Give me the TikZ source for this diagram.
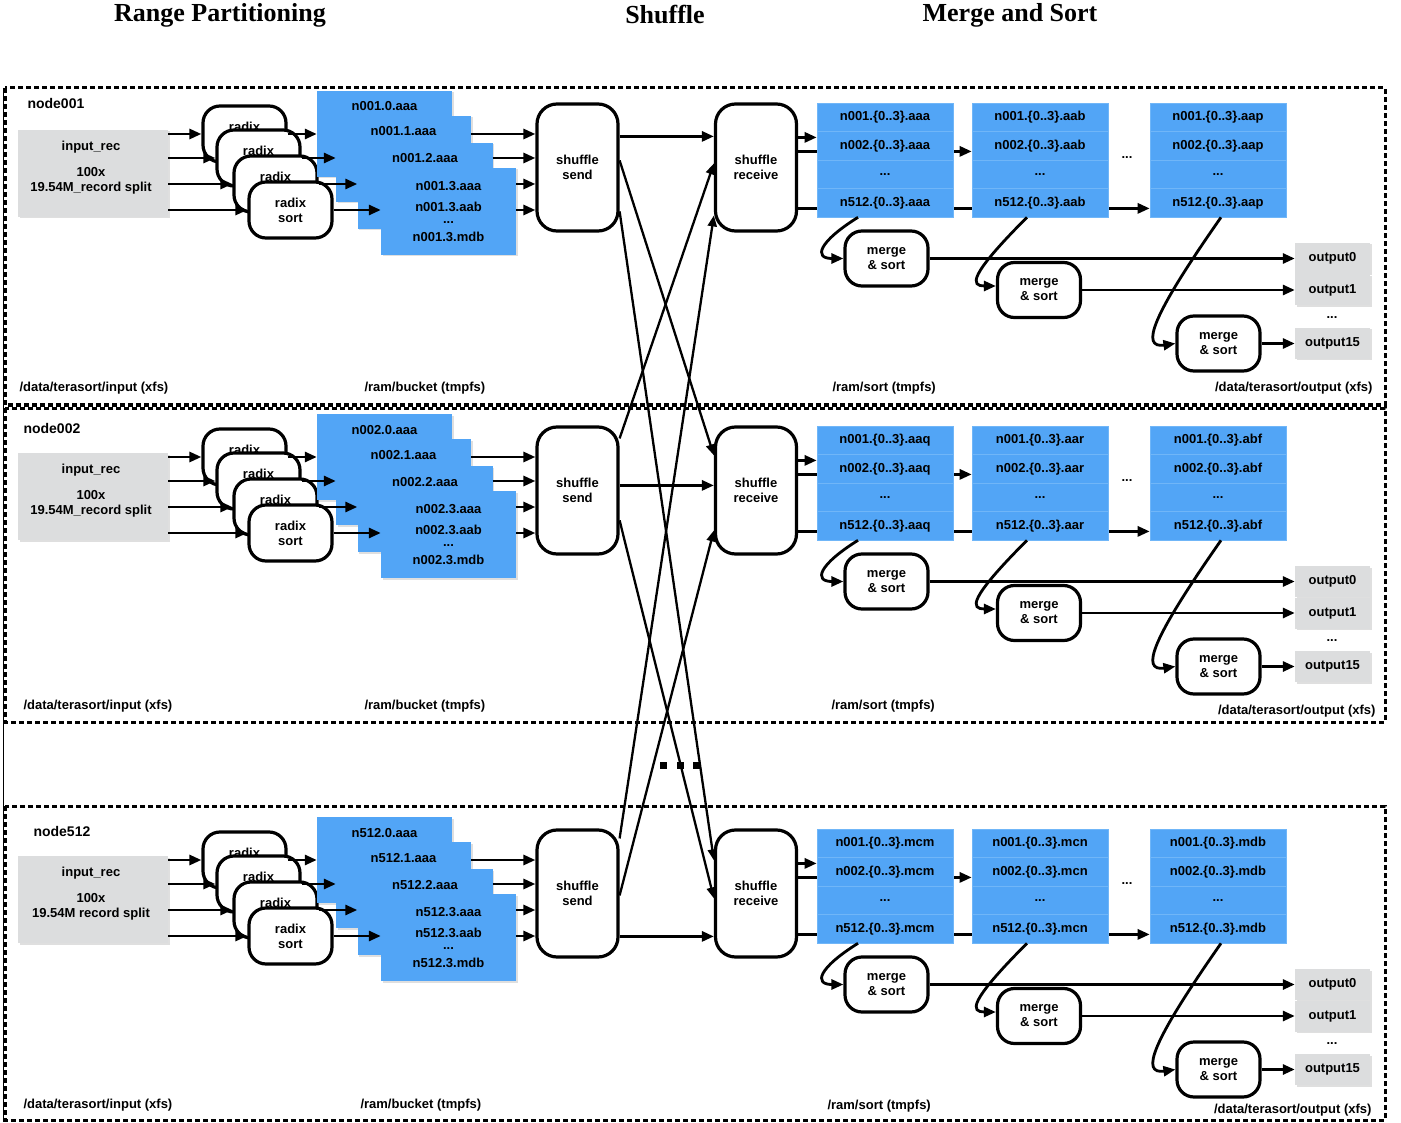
\documentclass[tikz,border=0pt]{standalone}
\usepackage{fontspec}
\setsansfont{Liberation Sans}
\newfontfamily\titlefont{Liberation Serif}
\usetikzlibrary{arrows.meta,shadows,backgrounds}

\definecolor{bucketblue}{RGB}{82,165,246}
\definecolor{rowline}{RGB}{112,182,248}
\definecolor{boxgray}{RGB}{220,221,222}

\tikzset{
	txt/.style={font=\sffamily\bfseries\fontsize{13}{15}\selectfont},
	ttl/.style={font=\titlefont\bfseries\fontsize{26}{30}\selectfont},
	arr/.style={line width=2.8pt, -{Triangle[length=12pt,width=10pt]}},
	crossarr/.style={line width=2.3pt, -{Triangle[length=11pt,width=9pt]}},
	panelline/.style={line width=3pt, dash pattern=on 5pt off 3pt},
	rbox/.style={txt, draw, line width=3.2pt, fill=white, align=center, inner sep=0pt},
	radixbox/.style={rbox, rounded corners=17pt, minimum width=83pt, minimum height=56pt},
	shufbox/.style={rbox, rounded corners=20pt, minimum width=81pt, minimum height=127pt},
	mergebox/.style={rbox, rounded corners=17pt, minimum width=83pt, minimum height=55pt},
	softshadow/.style={drop shadow={opacity=0.25, shadow xshift=1.5pt, shadow yshift=-1.5pt}},
	graybox/.style={txt, fill=boxgray, inner sep=0pt, softshadow},
	bucket/.style={txt, fill=bucketblue, inner sep=0pt, minimum width=135pt, text height=20pt, text depth=66pt, softshadow},
	bucketlast/.style={txt, fill=bucketblue, inner sep=0pt, minimum width=135pt, minimum height=87pt, align=center, softshadow},
	sortrow/.style={txt, fill=bucketblue, draw=rowline, line width=0.6pt, inner sep=0pt, minimum width=136pt, minimum height=28.5pt},
}

% one column of sorted buckets: name, x, suffix
\newcommand{\sortcol}[3]{%
	\node[sortrow] (#1r1) at (#2,117.25) {n001.\{0..3\}.#3};
	\node[sortrow] (#1r2) at (#2,145.75) {n002.\{0..3\}.#3};
	\node[sortrow] (#1r3) at (#2,174.25) {...};
	\node[sortrow] (#1r4) at (#2,202.75) {n512.\{0..3\}.#3};
}

% one machine: tag, y offset, id, record text, three suffixes, send->receive offset
\newcommand{\nodepanel}[8]{%
\begin{scope}[shift={(0,#2)}]
	% Instances:
	\node[graybox, minimum width=150pt, minimum height=87pt] (in#1) at (93,173.5) {};
	\node[txt, align=center] (intxt#1) at (91,168) {input\_rec\\[11pt]100x\\#4};
	\node[radixbox] (rdx#1a) at (244.5,134) {radix\\sort};
	\node[radixbox] (rdx#1b) at (258.5,158) {radix\\sort};
	\node[radixbox] (rdx#1c) at (275.5,184) {radix\\sort};
	\node[radixbox] (rdx#1d) at (290.5,210) {radix\\sort};

	\node[bucket] (bk#1a) at (384.5,134) {#3.0.aaa};
	\node[bucket] (bk#1b) at (403.5,159) {#3.1.aaa};
	\node[bucket] (bk#1c) at (425,186) {#3.2.aaa};
	\node[bucketlast] (bk#1d) at (448.5,211.5) {#3.3.aaa\\[6pt]#3.3.aab\\[-3pt]...\\[3pt]#3.3.mdb};

	\node[shufbox] (snd#1) at (577.5,167.5) {shuffle\\send};
	\node[shufbox] (rcv#1) at (756,167.5) {shuffle\\receive};

	\sortcol{col#1a}{885}{#5}
	\sortcol{col#1b}{1040}{#6}
	\sortcol{col#1c}{1218}{#7}
	\node[txt] (cdots#1) at (1127,158) {...};

	\node[mergebox] (ms#1a) at (886.5,258.5) {merge\\\& sort};
	\node[mergebox] (ms#1b) at (1039,290) {merge\\\& sort};
	\node[mergebox] (ms#1c) at (1218.5,343.5) {merge\\\& sort};

	\node[graybox, minimum width=75pt, minimum height=31pt] (out#1a) at (1332.5,258.5) {output0};
	\node[graybox, minimum width=75pt, minimum height=31pt] (out#1b) at (1332.5,290) {output1};
	\node[txt] (odots#1) at (1332,318) {...};
	\node[graybox, minimum width=75pt, minimum height=31pt] (out#1c) at (1332.5,343.5) {output15};

	% Lines:
	\foreach \k in {a,b,c,d}
		\draw[arr] (in#1.east |- rdx#1\k.west) -- (rdx#1\k.west);
	\foreach \k in {a,b,c,d}
		\draw[arr] (rdx#1\k.east) -- (rdx#1\k.east -| bk#1\k.west);
	\draw[arr] (rdx#1a.east -| bk#1b.east) -- (rdx#1a.east -| snd#1.west);
	\draw[arr] (rdx#1b.east -| bk#1c.east) -- (rdx#1b.east -| snd#1.west);
	\draw[arr] (rdx#1c.east -| bk#1d.east) -- (rdx#1c.east -| snd#1.west);
	\draw[arr] (rdx#1d.east -| bk#1d.east) -- (rdx#1d.east -| snd#1.west);

	\draw[arr] ([yshift=-#8pt]snd#1.north east) -- ([yshift=-#8pt]rcv#1.north west);

	\coordinate (rwa#1) at ([yshift=-35pt]rcv#1.north east);
	\coordinate (rwb#1) at ([yshift=-49pt]rcv#1.north east);
	\coordinate (rwc#1) at ([yshift=-106pt]rcv#1.north east);
	\begin{scope}[on background layer]
		\draw[arr] (rwa#1) -- (rwa#1 -| col#1ar1.west);
		\draw[arr] (rwb#1) -- (rwb#1 -| col#1br1.west);
		\draw[arr] (rwc#1) -- (rwc#1 -| col#1cr1.west);
	\end{scope}

	\draw[arr] ([xshift=-27pt]col#1ar4.south) .. controls +(-40,25) and +(-30,0) .. (ms#1a.west);
	\draw[arr] ([xshift=-13pt]col#1br4.south) .. controls +(-60,60) and +(-25,0) .. ([yshift=4pt]ms#1b.west);
	\draw[arr] ([xshift=3pt]col#1cr4.south) .. controls +(-70,100) and +(-35,5) .. (ms#1c.west);

	\draw[arr] (ms#1a.east) -- (ms#1a.east -| out#1a.west);
	\draw[arr] (ms#1b.east) -- (ms#1b.east -| out#1b.west);
	\draw[arr] (ms#1c.east) -- (ms#1c.east -| out#1c.west);
\end{scope}}

\begin{document}
\begin{tikzpicture}[x=1pt, y=-1pt]
	\useasboundingbox (0,0) rectangle (1401,1123);

	% Panels:
	\draw[panelline] (5,88) rectangle (1385,405);
	\draw[panelline] (5,408) rectangle (1385,722);
	\draw[panelline] (5,806) rectangle (1385,1120);
	\draw[line width=1pt] (3,88) -- (3,1122);

	\nodepanel{a}{0}{n001}{19.54M\_record split}{aaa}{aab}{aap}{34}
	\nodepanel{b}{323}{n002}{19.54M\_record split}{aaq}{aar}{abf}{60}
	\nodepanel{c}{726}{n512}{19.54M record split}{mcm}{mcn}{mdb}{108}

	% Shuffle lines:
	\draw[crossarr] ([yshift=-58pt]snda.north east) -- ([yshift=-30pt]rcvb.north west);
	\draw[crossarr] ([yshift=-109pt]snda.north east) -- ([yshift=-32pt]rcvc.north west);
	\draw[crossarr] ([yshift=-13pt]sndb.north east) -- ([yshift=-61pt]rcva.north west);
	\draw[crossarr] ([yshift=-95pt]sndb.north east) -- ([yshift=-70pt]rcvc.north west);
	\draw[crossarr] ([yshift=-10pt]sndc.north east) -- ([yshift=-113pt]rcva.north west);
	\draw[crossarr] ([yshift=-67pt]sndc.north east) -- ([yshift=-105pt]rcvb.north west);

	\fill (660,762) rectangle ++(7,7);
	\fill (677,762) rectangle ++(7,7);
	\fill (693,762) rectangle ++(7,7);

	% Labels
	\node[ttl] (ttlrange) at (220,15) {Range Partitioning};
	\node[ttl] (ttlshuffle) at (665,15) {Shuffle};
	\node[ttl] (ttlmerge) at (1010,15) {Merge and Sort};

	\node[txt, font=\sffamily\bfseries\fontsize{14}{16}\selectfont, anchor=west] (nodea) at (24,103) {node001};
	\node[txt, font=\sffamily\bfseries\fontsize{14}{16}\selectfont, anchor=west] (nodeb) at (20,428) {node002};
	\node[txt, font=\sffamily\bfseries\fontsize{14}{16}\selectfont, anchor=west] (nodec) at (30,831) {node512};

	\node[txt, anchor=west] (inpa) at (16,388) {/data/terasort/input (xfs)};
	\node[txt, anchor=west] (bkta) at (361,388) {/ram/bucket (tmpfs)};
	\node[txt, anchor=west] (srta) at (829,388) {/ram/sort (tmpfs)};
	\node[txt, anchor=east] (outa) at (1376,388) {/data/terasort/output (xfs)};

	\node[txt, anchor=west] (inpb) at (20,706) {/data/terasort/input (xfs)};
	\node[txt, anchor=west] (bktb) at (361,706) {/ram/bucket (tmpfs)};
	\node[txt, anchor=west] (srtb) at (828,706) {/ram/sort (tmpfs)};
	\node[txt, anchor=east] (outb) at (1379,711) {/data/terasort/output (xfs)};

	\node[txt, anchor=west] (inpc) at (20,1105) {/data/terasort/input (xfs)};
	\node[txt, anchor=west] (bktc) at (357,1105) {/ram/bucket (tmpfs)};
	\node[txt, anchor=west] (srtc) at (824,1106) {/ram/sort (tmpfs)};
	\node[txt, anchor=east] (outc) at (1375,1110) {/data/terasort/output (xfs)};
\end{tikzpicture}
\end{document}
